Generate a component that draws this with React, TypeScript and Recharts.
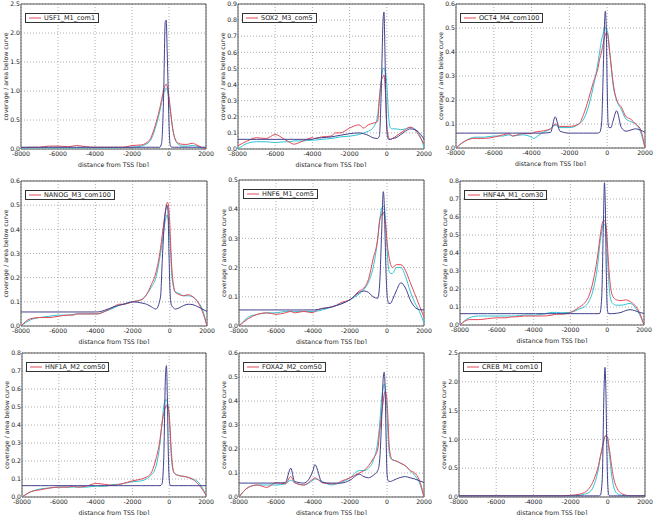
import React from 'react';
import { LineChart, Line, XAxis, YAxis, CartesianGrid, ReferenceArea, Legend, Label } from 'recharts';

// distance from TSS [bp]
const X = [-8000, -7500, -7000, -6500, -6000, -5500, -5200, -5000, -4500, -4000, -3900, -3500, -3000, -2750, -2500, -2000, -1500, -1250, -1000, -750, -500, -400, -300, -200, -150, -100, -50, 0, 50, 100, 200, 300, 500, 750, 1000, 1250, 1500, 1750, 2000];
const X_TICKS = [-8000, -6000, -4000, -2000, 0, 2000];

const Y_TICKS_25 = [0, 0.5, 1, 1.5, 2, 2.5];
const Y_TICKS_09 = [0, 0.1, 0.2, 0.3, 0.4, 0.5, 0.6, 0.7, 0.8, 0.9];
const Y_TICKS_08 = [0, 0.1, 0.2, 0.3, 0.4, 0.5, 0.6, 0.7, 0.8];
const Y_TICKS_06 = [0, 0.1, 0.2, 0.3, 0.4, 0.5, 0.6];
const Y_TICKS_05 = [0, 0.1, 0.2, 0.3, 0.4, 0.5];

// USF1_M1_com1
const usf1Red = [0.02, 0.03, 0.03, 0.05, 0.05, 0.04, 0.05, 0.06, 0.04, 0.03, 0.03, 0.03, 0.03, 0.03, 0.03, 0.06, 0.07, 0.1, 0.18, 0.4, 0.7, 0.85, 1.0, 1.1, 1.12, 1.08, 1.0, 0.9, 0.75, 0.6, 0.35, 0.2, 0.1, 0.08, 0.08, 0.1, 0.07, 0.03, 0.0];
const usf1Cyan = [0.01, 0.02, 0.02, 0.02, 0.02, 0.02, 0.02, 0.02, 0.02, 0.02, 0.02, 0.02, 0.02, 0.02, 0.025, 0.03, 0.05, 0.08, 0.15, 0.35, 0.65, 0.8, 0.95, 1.03, 1.05, 1.02, 0.95, 0.85, 0.72, 0.6, 0.35, 0.2, 0.08, 0.05, 0.05, 0.06, 0.05, 0.02, 0.0];
const usf1Navy = [0.03, 0.03, 0.03, 0.03, 0.03, 0.03, 0.03, 0.03, 0.03, 0.03, 0.03, 0.03, 0.03, 0.03, 0.03, 0.03, 0.03, 0.03, 0.03, 0.03, 0.03, 0.1, 0.8, 2.2, 2.22, 1.7, 1.1, 0.45, 0.1, 0.04, 0.03, 0.03, 0.03, 0.03, 0.03, 0.03, 0.03, 0.03, 0.03];

// SOX2_M3_com5
const sox2Red = [0.02, 0.05, 0.07, 0.065, 0.09, 0.06, 0.04, 0.03, 0.05, 0.07, 0.065, 0.075, 0.08, 0.1, 0.1, 0.13, 0.15, 0.13, 0.15, 0.16, 0.17, 0.3, 0.42, 0.45, 0.46, 0.4, 0.3, 0.15, 0.1, 0.07, 0.06, 0.065, 0.08, 0.1, 0.12, 0.135, 0.12, 0.08, 0.03];
const sox2Cyan = [0.0, 0.035, 0.045, 0.045, 0.04, 0.045, 0.045, 0.05, 0.05, 0.055, 0.055, 0.06, 0.065, 0.07, 0.075, 0.08, 0.09, 0.1, 0.11, 0.13, 0.2, 0.32, 0.43, 0.5, 0.5, 0.49, 0.46, 0.4, 0.3, 0.2, 0.13, 0.125, 0.125, 0.12, 0.125, 0.135, 0.125, 0.09, 0.01];
const sox2Navy = [0.06, 0.06, 0.06, 0.06, 0.06, 0.06, 0.06, 0.06, 0.06, 0.06, 0.065, 0.07, 0.075, 0.08, 0.085, 0.095, 0.1, 0.095, 0.085, 0.07, 0.065, 0.08, 0.35, 0.8, 0.85, 0.6, 0.3, 0.12, 0.07, 0.06, 0.06, 0.065, 0.07, 0.09, 0.11, 0.125, 0.12, 0.1, 0.06];

// OCT4_M4_com100
const oct4Red = [0.0, 0.03, 0.04, 0.04, 0.045, 0.055, 0.06, 0.05, 0.06, 0.06, 0.065, 0.07, 0.08, 0.1, 0.09, 0.09, 0.1, 0.14, 0.2, 0.27, 0.33, 0.37, 0.4, 0.44, 0.46, 0.47, 0.48, 0.48, 0.46, 0.42, 0.35, 0.28, 0.2, 0.17, 0.13, 0.12, 0.1, 0.08, 0.0];
const oct4Cyan = [0.0, 0.03, 0.045, 0.045, 0.05, 0.05, 0.055, 0.05, 0.055, 0.045, 0.04, 0.06, 0.08, 0.095, 0.085, 0.085, 0.1, 0.12, 0.17, 0.25, 0.35, 0.4, 0.45, 0.48, 0.5, 0.5, 0.5, 0.49, 0.47, 0.43, 0.35, 0.27, 0.2, 0.16, 0.12, 0.11, 0.1, 0.07, 0.0];
const oct4Navy = [0.062, 0.062, 0.062, 0.062, 0.062, 0.062, 0.062, 0.062, 0.062, 0.062, 0.062, 0.062, 0.065, 0.13, 0.07, 0.062, 0.062, 0.062, 0.062, 0.062, 0.062, 0.065, 0.1, 0.35, 0.5, 0.57, 0.5, 0.25, 0.1, 0.085, 0.085, 0.11, 0.155, 0.085, 0.07, 0.075, 0.08, 0.075, 0.065];

// NANOG_M3_com100
const nanogRed = [0.0, 0.03, 0.035, 0.035, 0.04, 0.045, 0.045, 0.05, 0.05, 0.05, 0.05, 0.06, 0.08, 0.09, 0.09, 0.1, 0.11, 0.13, 0.17, 0.22, 0.32, 0.38, 0.44, 0.49, 0.51, 0.51, 0.48, 0.42, 0.33, 0.25, 0.17, 0.14, 0.13, 0.125, 0.13, 0.12, 0.1, 0.06, 0.0];
const nanogCyan = [0.0, 0.025, 0.035, 0.04, 0.045, 0.045, 0.048, 0.05, 0.05, 0.05, 0.05, 0.06, 0.075, 0.085, 0.09, 0.1, 0.11, 0.13, 0.16, 0.2, 0.3, 0.35, 0.41, 0.45, 0.46, 0.45, 0.42, 0.37, 0.3, 0.22, 0.16, 0.14, 0.135, 0.125, 0.125, 0.12, 0.1, 0.07, 0.0];
const nanogNavy = [0.058, 0.058, 0.058, 0.058, 0.058, 0.058, 0.058, 0.058, 0.058, 0.058, 0.058, 0.065, 0.08, 0.085, 0.09, 0.1, 0.095, 0.09, 0.08, 0.07, 0.12, 0.28, 0.42, 0.49, 0.5, 0.48, 0.32, 0.17, 0.1, 0.085, 0.075, 0.07, 0.075, 0.085, 0.09, 0.088, 0.08, 0.07, 0.06];

// HNF6_M1_com5
const hnf6Red = [0.0, 0.025, 0.04, 0.045, 0.04, 0.045, 0.05, 0.045, 0.05, 0.045, 0.05, 0.06, 0.065, 0.07, 0.08, 0.09, 0.12, 0.13, 0.16, 0.23, 0.3, 0.36, 0.38, 0.39, 0.38, 0.36, 0.33, 0.29, 0.26, 0.24, 0.21, 0.2, 0.21, 0.21, 0.19, 0.15, 0.11, 0.07, 0.03];
const hnf6Cyan = [0.0, 0.03, 0.04, 0.045, 0.045, 0.05, 0.05, 0.05, 0.05, 0.05, 0.05, 0.055, 0.065, 0.07, 0.075, 0.09, 0.11, 0.125, 0.15, 0.2, 0.3, 0.36, 0.4, 0.41, 0.41, 0.38, 0.33, 0.27, 0.22, 0.19, 0.18, 0.18, 0.2, 0.2, 0.17, 0.12, 0.08, 0.05, 0.01];
const hnf6Navy = [0.055, 0.055, 0.055, 0.055, 0.055, 0.055, 0.055, 0.055, 0.055, 0.055, 0.055, 0.06, 0.065, 0.07, 0.075, 0.09, 0.115, 0.12, 0.115, 0.1, 0.095, 0.14, 0.3, 0.46, 0.42, 0.3, 0.18, 0.11, 0.085, 0.077, 0.078, 0.09, 0.12, 0.148, 0.13, 0.09, 0.065, 0.056, 0.055];

// HNF4A_M1_com30
const hnf4aRed = [0.0, 0.03, 0.03, 0.035, 0.04, 0.04, 0.045, 0.045, 0.05, 0.05, 0.05, 0.05, 0.055, 0.06, 0.06, 0.07, 0.1, 0.12, 0.16, 0.25, 0.4, 0.48, 0.55, 0.58, 0.58, 0.57, 0.54, 0.47, 0.38, 0.3, 0.2, 0.16, 0.14, 0.135, 0.14, 0.13, 0.11, 0.07, 0.0];
const hnf4aCyan = [0.0, 0.04, 0.05, 0.05, 0.05, 0.05, 0.05, 0.05, 0.055, 0.055, 0.055, 0.06, 0.07, 0.07, 0.068, 0.07, 0.09, 0.1, 0.13, 0.2, 0.35, 0.45, 0.52, 0.56, 0.56, 0.55, 0.5, 0.42, 0.32, 0.22, 0.14, 0.12, 0.11, 0.11, 0.115, 0.12, 0.1, 0.06, 0.0];
const hnf4aNavy = [0.063, 0.063, 0.063, 0.063, 0.063, 0.063, 0.063, 0.063, 0.063, 0.063, 0.063, 0.063, 0.063, 0.063, 0.063, 0.063, 0.063, 0.063, 0.063, 0.063, 0.063, 0.065, 0.15, 0.6, 0.79, 0.65, 0.3, 0.1, 0.065, 0.063, 0.063, 0.063, 0.065, 0.07, 0.08, 0.085, 0.08, 0.07, 0.065];

// HNF1A_M2_com50
const hnf1aRed = [0.0, 0.03, 0.04, 0.05, 0.055, 0.055, 0.06, 0.055, 0.06, 0.075, 0.075, 0.07, 0.065, 0.07, 0.075, 0.09, 0.1, 0.11, 0.13, 0.2, 0.32, 0.4, 0.46, 0.5, 0.51, 0.51, 0.5, 0.46, 0.38, 0.28, 0.16, 0.13, 0.12, 0.115, 0.11, 0.1, 0.08, 0.05, 0.01];
const hnf1aCyan = [0.0, 0.03, 0.045, 0.05, 0.055, 0.055, 0.055, 0.055, 0.055, 0.06, 0.06, 0.06, 0.07, 0.07, 0.075, 0.085, 0.09, 0.1, 0.12, 0.16, 0.3, 0.4, 0.5, 0.54, 0.54, 0.53, 0.5, 0.44, 0.35, 0.25, 0.15, 0.13, 0.12, 0.115, 0.11, 0.1, 0.09, 0.06, 0.01];
const hnf1aNavy = [0.063, 0.063, 0.063, 0.063, 0.063, 0.063, 0.063, 0.063, 0.063, 0.063, 0.063, 0.063, 0.063, 0.063, 0.063, 0.063, 0.063, 0.063, 0.063, 0.063, 0.063, 0.07, 0.2, 0.68, 0.73, 0.55, 0.25, 0.1, 0.065, 0.063, 0.063, 0.063, 0.063, 0.063, 0.063, 0.063, 0.063, 0.063, 0.063];

// FOXA2_M2_com50
const foxa2Red = [0.0, 0.04, 0.05, 0.04, 0.06, 0.055, 0.085, 0.06, 0.05, 0.075, 0.08, 0.06, 0.055, 0.055, 0.065, 0.08, 0.1, 0.11, 0.13, 0.16, 0.2, 0.27, 0.34, 0.4, 0.43, 0.44, 0.43, 0.4, 0.33, 0.24, 0.17, 0.155, 0.15, 0.14, 0.13, 0.11, 0.1, 0.07, 0.0];
const foxa2Cyan = [0.0, 0.04, 0.05, 0.05, 0.05, 0.055, 0.07, 0.06, 0.05, 0.07, 0.075, 0.065, 0.05, 0.055, 0.06, 0.08, 0.11, 0.11, 0.12, 0.15, 0.23, 0.3, 0.4, 0.46, 0.47, 0.46, 0.42, 0.35, 0.27, 0.2, 0.16, 0.155, 0.15, 0.14, 0.13, 0.11, 0.09, 0.06, 0.0];
const foxa2Navy = [0.058, 0.058, 0.058, 0.058, 0.058, 0.06, 0.12, 0.065, 0.058, 0.11, 0.135, 0.06, 0.058, 0.058, 0.058, 0.07, 0.095, 0.085, 0.08, 0.09, 0.11, 0.15, 0.3, 0.5, 0.52, 0.45, 0.25, 0.1, 0.07, 0.065, 0.065, 0.068, 0.075, 0.082, 0.085, 0.08, 0.075, 0.068, 0.06];

// CREB_M1_com10
const crebRed = [0.02, 0.02, 0.02, 0.02, 0.02, 0.02, 0.02, 0.02, 0.02, 0.02, 0.02, 0.02, 0.02, 0.02, 0.02, 0.03, 0.05, 0.08, 0.15, 0.3, 0.55, 0.7, 0.85, 1.0, 1.05, 1.07, 1.06, 1.02, 0.9, 0.8, 0.55, 0.35, 0.15, 0.06, 0.03, 0.02, 0.02, 0.02, 0.02];
const crebCyan = [0.02, 0.02, 0.02, 0.02, 0.02, 0.02, 0.02, 0.02, 0.02, 0.02, 0.02, 0.02, 0.02, 0.02, 0.02, 0.02, 0.03, 0.05, 0.08, 0.2, 0.5, 0.7, 0.85, 1.0, 1.05, 1.07, 1.05, 1.0, 0.85, 0.7, 0.4, 0.2, 0.06, 0.03, 0.02, 0.02, 0.02, 0.02, 0.02];
const crebNavy = [0.02, 0.02, 0.02, 0.02, 0.02, 0.02, 0.02, 0.02, 0.02, 0.02, 0.02, 0.02, 0.02, 0.02, 0.02, 0.02, 0.02, 0.02, 0.02, 0.02, 0.02, 0.03, 0.3, 1.9, 2.25, 1.8, 0.8, 0.2, 0.04, 0.02, 0.02, 0.02, 0.02, 0.02, 0.02, 0.02, 0.02, 0.02, 0.02];

const NAMES = ['USF1_M1_com1', 'SOX2_M3_com5', 'OCT4_M4_com100', 'NANOG_M3_com100', 'HNF6_M1_com5', 'HNF4A_M1_com30', 'HNF1A_M2_com50', 'FOXA2_M2_com50', 'CREB_M1_com10'];
const YMAX = [2.5, 0.9, 0.6, 0.6, 0.5, 0.8, 0.8, 0.6, 2.5];
const YTICKS = [Y_TICKS_25, Y_TICKS_09, Y_TICKS_06, Y_TICKS_06, Y_TICKS_05, Y_TICKS_08, Y_TICKS_08, Y_TICKS_06, Y_TICKS_25];
const REDS = [usf1Red, sox2Red, oct4Red, nanogRed, hnf6Red, hnf4aRed, hnf1aRed, foxa2Red, crebRed];
const CYANS = [usf1Cyan, sox2Cyan, oct4Cyan, nanogCyan, hnf6Cyan, hnf4aCyan, hnf1aCyan, foxa2Cyan, crebCyan];
const NAVYS = [usf1Navy, sox2Navy, oct4Navy, nanogNavy, hnf6Navy, hnf4aNavy, hnf1aNavy, foxa2Navy, crebNavy];

// plot-area boxes [left, right, top, bottom] in page pixels
const BOXES = [
  [21, 206, 4, 149], [238, 424, 4, 149], [456, 645, 4, 148],
  [21, 207, 181, 326], [239, 424, 180, 326], [460, 644, 181, 325],
  [22, 206, 353, 497], [239, 424, 353, 497], [459, 645, 353, 497],
];

const RED = '#e34a55';
const CYAN = '#2ec3d3';
const NAVY = '#40408f';
const TXT = '#1a1a1a';

const YLabel = (props: any) => {
  const vb = props.viewBox || {};
  const cx = vb.x + 8;
  const cy = vb.y + vb.height / 2;
  return (
    <text x={cx} y={cy} transform={`rotate(-90, ${cx}, ${cy})`} textAnchor="middle" dominantBaseline="central" fontSize={6.2} fill={TXT}>
      coverage / area below curve
    </text>
  );
};

function Panel({ idx }: { idx: number }) {
  const [L, R, T, B] = BOXES[idx];
  const yw = 24, mt = 5, mr = 14, xh = 18;
  const w = yw + (R - L) + mr;
  const h = mt + (B - T) + xh;
  const ymax = YMAX[idx];
  const data = X.map((x, i) => ({ x, red: REDS[idx][i], cyan: CYANS[idx][i], navy: NAVYS[idx][i] }));
  const name = NAMES[idx];
  return (
    <div style={{ position: 'absolute', left: L - yw, top: T - mt }}>
      <LineChart width={w} height={h} data={data} margin={{ top: mt, right: mr, left: 0, bottom: 0 }}>
        <CartesianGrid stroke="#9a9a9a" strokeDasharray="1 2" strokeWidth={0.8} />
        <XAxis dataKey="x" type="number" domain={[-8000, 2000]} ticks={X_TICKS} interval={0}
          tick={{ fontSize: 6.2, fill: TXT }} tickLine={false} axisLine={false} tickSize={0} tickMargin={3} height={xh}
          tickFormatter={(v: number) => String(v)}>
          <Label value="distance from TSS [bp]" position="insideBottom" offset={0.5} style={{ fontSize: 6.2, fill: TXT }} />
        </XAxis>
        <YAxis type="number" domain={[0, ymax]} ticks={YTICKS[idx]} interval={0} width={yw}
          tick={{ fontSize: 6.2, fill: TXT }} tickLine={false} axisLine={false} tickSize={0} tickMargin={1}
          tickFormatter={(v: number) => v.toFixed(1)}>
          <Label content={<YLabel />} />
        </YAxis>
        <ReferenceArea x1={-8000} x2={2000} y1={0} y2={ymax} fill="none" stroke="#555" strokeWidth={1} ifOverflow="visible" />
        <Line type="monotone" dataKey="cyan" stroke={CYAN} strokeWidth={1} dot={false} isAnimationActive={false} />
        <Line type="monotone" dataKey="red" stroke={RED} strokeWidth={1} dot={false} isAnimationActive={false} />
        <Line type="monotone" dataKey="navy" stroke={NAVY} strokeWidth={1} dot={false} isAnimationActive={false} />
        <Legend layout="horizontal" align="center" verticalAlign="middle"
          wrapperStyle={{ top: mt + 2, left: yw + 4, width: 'auto', height: 'auto' }}
          content={() => (
            <div style={{ display: 'inline-flex', alignItems: 'center', border: '1px solid #333', background: '#fff', height: 8, padding: '0 3px', fontSize: 6.5, lineHeight: '8px', color: TXT, whiteSpace: 'nowrap' }}>
              <svg width={12} height={6} style={{ marginRight: 3 }}>
                <line x1={0} y1={3} x2={12} y2={3} stroke={RED} strokeWidth={1} />
              </svg>
              <span>{name}</span>
            </div>
          )} />
      </LineChart>
    </div>
  );
}

export default function App() {
  return (
    <div style={{ position: 'absolute', left: 0, top: 0, width: 653, height: 516, background: '#fff', overflow: 'hidden', fontFamily: '"DejaVu Sans", sans-serif' }}>
      {NAMES.map((_, i) => <Panel key={i} idx={i} />)}
    </div>
  );
}
